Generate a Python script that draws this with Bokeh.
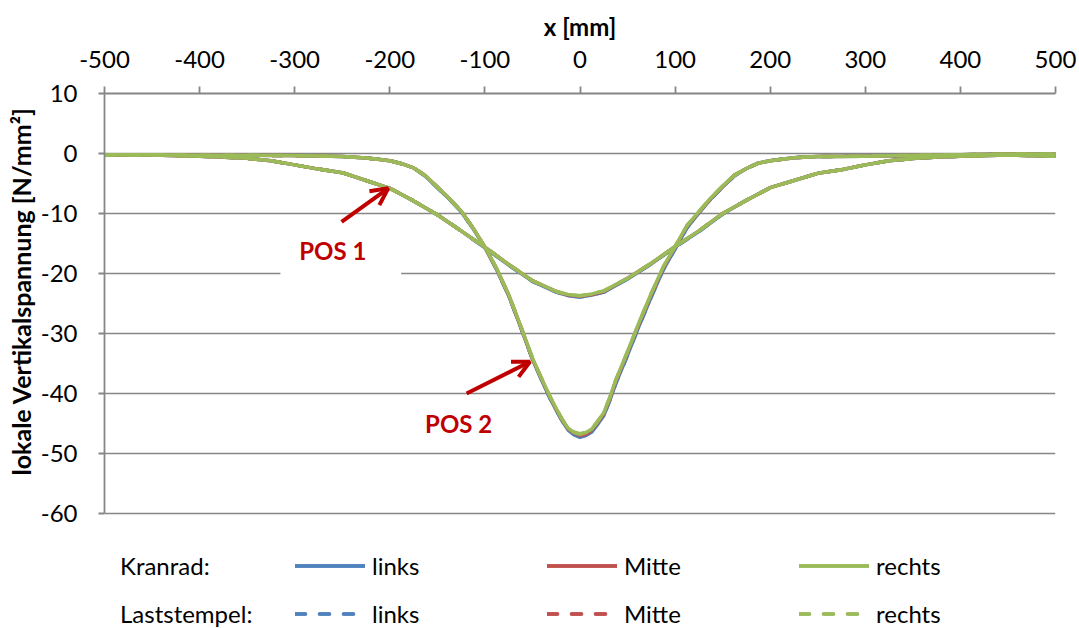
from bokeh.plotting import figure
from bokeh.models import Range1d, FixedTicker, Legend, LegendItem, Label, Arrow, OpenHead, BoxAnnotation, Title
from bokeh.embed import file_html
from bokeh.resources import INLINE

# ---------------- data ----------------
x_ticks = [-500, -400, -300, -200, -100, 0, 100, 200, 300, 400, 500]
y_ticks = [-60, -50, -40, -30, -20, -10, 0, 10]

x_pos1 = [-500, -450, -400, -375, -350, -325, -300, -275, -250, -225, -200, -175, -150, -125, -100,
          -75, -50, -25, -12.5, 0, 12.5, 25, 50, 75, 100, 125, 150, 175, 200, 225, 250, 275, 300, 325,
          350, 375, 400, 450, 500]

kr_links_pos1 = [-0.2, -0.25, -0.45, -0.6, -0.8, -1.2, -1.9, -2.6, -3.2, -4.5, -5.8, -7.9, -10.2, -12.9, -15.7,
                 -18.6, -21.3, -23.1, -23.7, -23.9, -23.6, -23.1, -20.9, -18.4, -15.6, -13.0, -10.1, -7.8, -5.7,
                 -4.5, -3.3, -2.7, -1.9, -1.2, -0.85, -0.6, -0.45, -0.25, -0.45]
kr_mitte_pos1 = [-0.2, -0.25, -0.45, -0.6, -0.8, -1.2, -1.9, -2.6, -3.2, -4.5, -5.8, -7.9, -10.2, -12.9, -15.6,
                 -18.5, -21.2, -23.0, -23.6, -23.8, -23.5, -23.0, -20.8, -18.3, -15.5, -12.9, -10.0, -7.8, -5.7,
                 -4.5, -3.3, -2.7, -1.9, -1.2, -0.85, -0.6, -0.45, -0.25, -0.45]
kr_rechts_pos1 = [-0.2, -0.25, -0.45, -0.6, -0.8, -1.2, -1.9, -2.6, -3.2, -4.5, -5.8, -7.9, -10.2, -12.9, -15.6,
                  -18.5, -21.2, -23.0, -23.5, -23.7, -23.4, -22.9, -20.8, -18.3, -15.5, -12.9, -10.0, -7.8, -5.7,
                  -4.5, -3.3, -2.7, -1.9, -1.2, -0.85, -0.6, -0.45, -0.25, -0.45]
ls_links_pos1 = [-0.2, -0.25, -0.45, -0.6, -0.8, -1.2, -1.9, -2.6, -3.2, -4.5, -5.8, -7.9, -10.2, -12.9, -15.7,
                 -18.6, -21.3, -23.1, -23.7, -23.9, -23.6, -23.1, -20.9, -18.4, -15.6, -13.0, -10.1, -7.8, -5.7,
                 -4.5, -3.3, -2.7, -1.9, -1.2, -0.85, -0.6, -0.45, -0.25, -0.45]
ls_mitte_pos1 = [-0.2, -0.25, -0.45, -0.6, -0.8, -1.2, -1.9, -2.6, -3.2, -4.5, -5.8, -7.9, -10.2, -12.9, -15.6,
                 -18.5, -21.2, -23.0, -23.6, -23.8, -23.5, -23.0, -20.8, -18.3, -15.5, -12.9, -10.0, -7.8, -5.7,
                 -4.5, -3.3, -2.7, -1.9, -1.2, -0.85, -0.6, -0.45, -0.25, -0.45]
ls_rechts_pos1 = [-0.2, -0.25, -0.45, -0.6, -0.8, -1.2, -1.9, -2.6, -3.2, -4.5, -5.8, -7.9, -10.2, -12.9, -15.6,
                  -18.5, -21.2, -23.0, -23.5, -23.7, -23.4, -22.9, -20.8, -18.3, -15.5, -12.9, -10.0, -7.8, -5.7,
                  -4.5, -3.3, -2.7, -1.9, -1.2, -0.85, -0.6, -0.45, -0.25, -0.45]

x_pos2 = [-500, -450, -400, -350, -300, -250, -225, -212.5, -200, -187.5, -175, -162.5, -150, -137.5, -125,
          -112.5, -100, -87.5, -75, -62.5, -50, -37.5, -31.25, -25, -18.75, -12.5, -6.25, 0, 6.25, 12.5,
          18.75, 25, 31.25, 37.5, 50, 62.5, 75, 87.5, 100, 112.5, 125, 137.5, 150, 162.5, 175, 187.5, 200,
          225, 250, 300, 350, 400, 450, 500]

kr_links_pos2 = [-0.2, -0.2, -0.3, -0.3, -0.35, -0.5, -0.75, -0.95, -1.2, -1.7, -2.4, -3.8, -5.7, -7.6, -9.7,
                 -12.5, -15.7, -19.4, -23.7, -28.9, -34.3, -38.8, -40.9, -42.8, -44.6, -46.1, -46.9, -47.3,
                 -47.0, -46.4, -45.1, -43.7, -41.2, -38.4, -33.6, -28.6, -23.9, -19.4, -15.9, -12.4, -9.9,
                 -7.6, -5.6, -3.7, -2.5, -1.6, -1.2, -0.7, -0.5, -0.45, -0.3, -0.2, -0.1, -0.1]
kr_mitte_pos2 = [-0.2, -0.2, -0.3, -0.3, -0.35, -0.5, -0.75, -0.95, -1.2, -1.7, -2.4, -3.7, -5.6, -7.5, -9.6,
                 -12.4, -15.6, -19.3, -23.6, -28.8, -34.2, -38.6, -40.7, -42.6, -44.4, -45.9, -46.7, -47.1,
                 -46.8, -46.1, -44.8, -43.4, -40.9, -38.0, -33.2, -28.2, -23.5, -19.1, -15.6, -12.1, -9.8,
                 -7.5, -5.5, -3.6, -2.5, -1.6, -1.2, -0.7, -0.5, -0.45, -0.3, -0.2, -0.1, -0.1]
kr_rechts_pos2 = [-0.2, -0.2, -0.3, -0.3, -0.35, -0.5, -0.75, -0.95, -1.2, -1.7, -2.4, -3.7, -5.6, -7.5, -9.6,
                  -12.4, -15.6, -19.2, -23.5, -28.7, -34.1, -38.5, -40.6, -42.5, -44.3, -45.8, -46.5, -46.8,
                  -46.5, -45.9, -44.6, -43.2, -40.7, -37.8, -33.0, -28.0, -23.3, -18.9, -15.5, -12.0, -9.7,
                  -7.4, -5.4, -3.6, -2.5, -1.6, -1.2, -0.7, -0.5, -0.45, -0.3, -0.2, -0.1, -0.1]
ls_links_pos2 = [-0.2, -0.2, -0.3, -0.3, -0.35, -0.5, -0.75, -0.95, -1.2, -1.7, -2.4, -3.8, -5.7, -7.6, -9.7,
                 -12.5, -15.7, -19.4, -23.7, -28.9, -34.3, -38.8, -40.9, -42.8, -44.5, -46.0, -46.8, -47.2,
                 -46.9, -46.3, -45.0, -43.7, -41.2, -38.4, -33.6, -28.6, -23.9, -19.4, -15.9, -12.4, -9.9,
                 -7.6, -5.6, -3.7, -2.5, -1.6, -1.2, -0.7, -0.5, -0.45, -0.3, -0.2, -0.1, -0.1]
ls_mitte_pos2 = [-0.2, -0.2, -0.3, -0.3, -0.35, -0.5, -0.75, -0.95, -1.2, -1.7, -2.4, -3.7, -5.6, -7.5, -9.6,
                 -12.4, -15.6, -19.3, -23.6, -28.8, -34.2, -38.6, -40.7, -42.6, -44.4, -45.9, -46.6, -47.0,
                 -46.7, -46.1, -44.8, -43.4, -40.9, -38.0, -33.2, -28.2, -23.5, -19.1, -15.6, -12.1, -9.8,
                 -7.5, -5.5, -3.6, -2.5, -1.6, -1.2, -0.7, -0.5, -0.45, -0.3, -0.2, -0.1, -0.1]
ls_rechts_pos2 = [-0.2, -0.2, -0.3, -0.3, -0.35, -0.5, -0.75, -0.95, -1.2, -1.7, -2.4, -3.7, -5.6, -7.5, -9.6,
                  -12.4, -15.6, -19.2, -23.5, -28.7, -34.1, -38.5, -40.6, -42.5, -44.3, -45.8, -46.4, -46.7,
                  -46.4, -45.9, -44.6, -43.2, -40.7, -37.8, -33.0, -28.0, -23.3, -18.9, -15.5, -12.0, -9.7,
                  -7.4, -5.4, -3.6, -2.5, -1.6, -1.2, -0.7, -0.5, -0.45, -0.3, -0.2, -0.1, -0.1]

row_labels = ["Kranrad:", "Laststempel:"]
pos_labels = ["links", "Mitte", "rechts"]

# ---------------- styling ----------------
FONT = "Lato"
GRAY = "#868686"
BLUE = "#4F81BD"
RED = "#C0504D"
GREEN = "#9BBB59"
DARKRED = "#C00000"

W, H = 1079, 628
BL, BR, BT = 104, 24, 93
PX_PER_UNIT = 6.0
y_bottom = 10 - (H - BT) / PX_PER_UNIT   # frame reaches canvas bottom; legend lives inside

p = figure(width=W, height=H,
           min_border_left=BL, min_border_right=BR, min_border_top=BT, min_border_bottom=0,
           x_range=Range1d(-500, 500), y_range=Range1d(y_bottom, 10),
           x_axis_location="above", output_backend="svg", toolbar_location=None,
           background_fill_color="white", border_fill_color="white")
p.outline_line_color = None

for ax in (p.xaxis[0], p.yaxis[0]):
    ax.axis_line_color = GRAY
    ax.axis_line_width = 1.8
    ax.major_tick_line_color = GRAY
    ax.major_tick_line_width = 1.8
    ax.major_tick_in = 0
    ax.minor_tick_line_color = None
    ax.major_label_text_font = FONT
    ax.major_label_text_font_size = "24px"
    ax.major_label_text_color = "black"
    ax.axis_label_text_font = FONT
    ax.axis_label_text_font_size = "24px"
    ax.axis_label_text_font_style = "bold"
    ax.axis_label_text_color = "black"

p.xaxis.ticker = FixedTicker(ticks=x_ticks)
p.xaxis.major_label_overrides = {t: str(t) for t in x_ticks}
p.xaxis.major_tick_out = 7
p.xaxis.major_label_standoff = 19
p.xaxis.axis_label = "x [mm]"
p.xaxis.axis_label_standoff = 7

p.yaxis.ticker = FixedTicker(ticks=y_ticks)
p.yaxis.major_label_overrides = {t: str(t) for t in y_ticks}
p.yaxis.bounds = (-60, 10)
p.yaxis.major_tick_out = 6
p.yaxis.major_label_standoff = 21

ytitle = Title(text="lokale Vertikalspannung [N/mm²]", align="left", offset=153, standoff=4,
               text_font=FONT, text_font_size="25px", text_font_style="bold", text_color="black")
p.add_layout(ytitle, "left")

p.xgrid.visible = False
p.ygrid.grid_line_color = GRAY
p.ygrid.grid_line_width = 1.7

# white box behind the POS 1 label
p.add_layout(BoxAnnotation(left=-315, right=-188, top=-13, bottom=-21.5,
                           fill_color="white", fill_alpha=1.0, line_alpha=0))

LW = 3.5
DASH = "10 14"
series = [
    ("kr", 0, BLUE, kr_links_pos1, kr_links_pos2),
    ("kr", 1, RED, kr_mitte_pos1, kr_mitte_pos2),
    ("ls", 0, BLUE, ls_links_pos1, ls_links_pos2),
    ("ls", 1, RED, ls_mitte_pos1, ls_mitte_pos2),
    ("kr", 2, GREEN, kr_rechts_pos1, kr_rechts_pos2),
    ("ls", 2, GREEN, ls_rechts_pos1, ls_rechts_pos2),
]
rends = {}
for kind, idx, col, y1, y2 in series:
    kw = dict(line_color=col, line_width=LW, line_cap="round", line_join="round")
    if kind == "ls":
        kw["line_dash"] = DASH
    r1 = p.line(x_pos1, y1, **kw)
    r2 = p.line(x_pos2, y2, **kw)
    rends[(kind, idx)] = [r1, r2]

dummy = p.line([], [], line_alpha=0)

items = [LegendItem(label=row_labels[0], renderers=[dummy])]
items += [LegendItem(label=pos_labels[i], renderers=rends[("kr", i)]) for i in range(3)]
items += [LegendItem(label=row_labels[1], renderers=[dummy])]
items += [LegendItem(label=pos_labels[i], renderers=rends[("ls", i)]) for i in range(3)]

legend = Legend(items=items, location=(-61, 0), orientation="horizontal", ncols=4,
                glyph_width=70, glyph_height=29, label_width=156, label_height=29,
                label_standoff=7, spacing=19, padding=0, margin=0,
                border_line_alpha=0, background_fill_alpha=0,
                label_text_font=FONT, label_text_font_size="24px", label_text_color="black",
                label_text_baseline="middle")
p.add_layout(legend)

# annotations
p.add_layout(Label(x=-260, y=-16.1, text="POS 1", text_font=FONT, text_font_size="24px",
                   text_font_style="bold", text_color=DARKRED, text_align="center",
                   text_baseline="middle"))
p.add_layout(Label(x=-127.6, y=-45.0, text="POS 2", text_font=FONT, text_font_size="24px",
                   text_font_style="bold", text_color=DARKRED, text_align="center",
                   text_baseline="middle"))
p.add_layout(Arrow(x_start=-250.7, y_start=-11.4, x_end=-201.7, y_end=-5.8,
                   line_color=DARKRED, line_width=4,
                   end=OpenHead(size=17, line_color=DARKRED, line_width=4)))
p.add_layout(Arrow(x_start=-119.2, y_start=-40.0, x_end=-52.6, y_end=-34.7,
                   line_color=DARKRED, line_width=4,
                   end=OpenHead(size=17, line_color=DARKRED, line_width=4)))

open("out.html", "w").write(file_html(p, INLINE))
